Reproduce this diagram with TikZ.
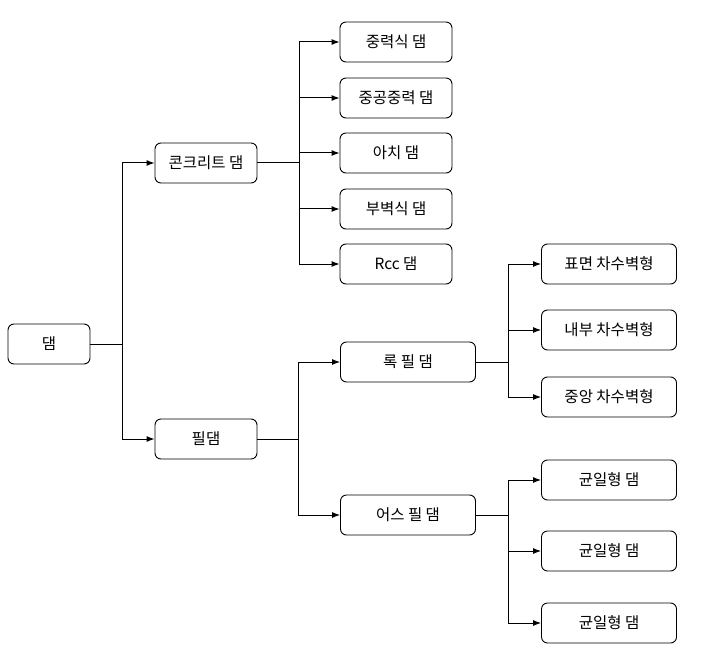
\documentclass[tikz,border=0pt]{standalone}
\usepackage{fontspec}
\setmainfont{Noto Sans CJK KR}
\usetikzlibrary{arrows.meta}
\begin{document}
\begin{tikzpicture}[x=1pt,y=-1pt,
  box/.style={draw=black, line width=0.9pt, rounded corners=6pt, minimum height=40pt, inner sep=0pt, font=\fontsize{15.5pt}{18pt}\selectfont, fill=white},
  sbox/.style={box, minimum width=102pt},
  mbox/.style={box, minimum width=112pt},
  lbox/.style={box, minimum width=135pt},
  dbox/.style={box, minimum width=82pt},
  link/.style={line width=1pt, draw=black},
  arr/.style={link, -{Latex[length=8pt,width=6pt]}}]
\useasboundingbox (0,0) rectangle (703,652);
\fill[white] (0,0) rectangle (703,652);
\node[dbox] (dam) at (49,344) {댐};
\node[sbox] (conc) at (206,163) {콘크리트 댐};
\node[sbox] (fill) at (206,439) {필댐};
\node[mbox] (c1) at (396,42) {중력식 댐};
\node[mbox] (c2) at (396,98) {중공중력 댐};
\node[mbox] (c3) at (396,153) {아치 댐};
\node[mbox] (c4) at (396,209) {부벽식 댐};
\node[mbox] (c5) at (396,264) {Rcc 댐};
\node[lbox] (rock) at (408,362) {록 필 댐};
\node[lbox] (earth) at (408,515) {어스 필 댐};
\node[lbox] (r1) at (609,264) {표면 차수벽형};
\node[lbox] (r2) at (609,330) {내부 차수벽형};
\node[lbox] (r3) at (609,397) {중앙 차수벽형};
\node[lbox] (e1) at (609,480) {균일형 댐};
\node[lbox] (e2) at (609,551) {균일형 댐};
\node[lbox] (e3) at (609,623) {균일형 댐};
\coordinate (j0) at (122,344);
\coordinate (j1) at (299,163);
\coordinate (j2) at (298,439);
\coordinate (j3) at (508,362);
\coordinate (j4) at (508,515);
\draw[link] (dam.east) -- (j0);
\draw[arr] (j0) |- (conc.west);
\draw[arr] (j0) |- (fill.west);
\draw[link] (conc.east) -- (j1);
\foreach \n in {c1,c2,c3,c4,c5} \draw[arr] (j1) |- (\n.west);
\draw[link] (fill.east) -- (j2);
\draw[arr] (j2) |- (rock.west);
\draw[arr] (j2) |- (earth.west);
\draw[link] (rock.east) -- (j3);
\foreach \n in {r1,r2,r3} \draw[arr] (j3) |- (\n.west);
\draw[link] (earth.east) -- (j4);
\foreach \n in {e1,e2,e3} \draw[arr] (j4) |- (\n.west);
\end{tikzpicture}
\end{document}
